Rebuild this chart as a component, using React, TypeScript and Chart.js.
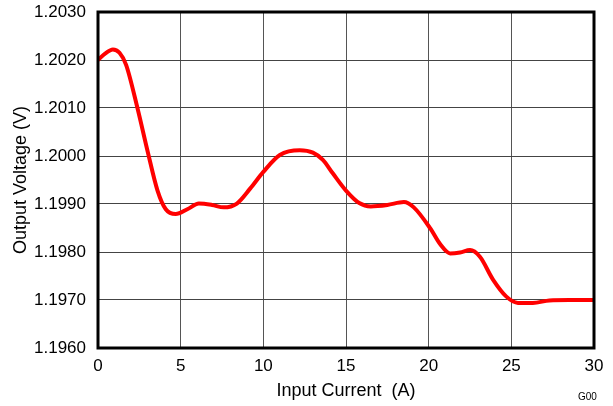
import React, { useEffect, useRef } from "react";
import { Chart, registerables } from "chart.js";

Chart.register(...registerables);

const currentA = [0, 0.45, 0.9, 1.3, 1.7, 2.4, 3.0, 3.6, 4.1, 4.7, 5.4, 6.1, 6.9, 7.6, 8.4, 9.2, 10.0, 11.0, 12.2, 13.0, 13.6, 14.2, 15.0, 15.8, 16.5, 17.5, 18.5, 19.1, 20.1, 20.7, 21.3, 21.9, 22.5, 23.1, 23.9, 24.7, 25.4, 26.3, 27.3, 28.5, 30];
const voltageV = [1.2020, 1.20214, 1.20222, 1.20215, 1.2019, 1.20098, 1.2001, 1.19928, 1.19889, 1.19879, 1.19889, 1.19901, 1.19898, 1.19893, 1.19901, 1.19932, 1.19967, 1.20002, 1.20012, 1.20007, 1.19992, 1.19964, 1.19928, 1.19902, 1.19895, 1.19898, 1.19904, 1.19893, 1.19849, 1.19816, 1.19797, 1.19799, 1.19804, 1.1979, 1.19742, 1.19707, 1.19694, 1.19694, 1.19699, 1.1970, 1.1970];
const xTicks = [0, 5, 10, 15, 20, 25, 30];
const yTicks = [1.196, 1.197, 1.198, 1.199, 1.2, 1.201, 1.202, 1.203];

const FONT = "'Liberation Sans', Arial, sans-serif";

const framePlugin = {
  id: "frame",
  afterDraw(chart: any) {
    const { ctx, chartArea } = chart;
    ctx.save();
    ctx.strokeStyle = "#000";
    ctx.lineWidth = 3;
    ctx.strokeRect(chartArea.left, chartArea.top, chartArea.right - chartArea.left, chartArea.bottom - chartArea.top);
    ctx.restore();
  },
};

export default function App() {
  const ref = useRef<HTMLCanvasElement>(null);
  useEffect(() => {
    const chart = new Chart(ref.current!, {
      type: "line",
      data: {
        datasets: [
          {
            data: currentA.map((x, i) => ({ x, y: voltageV[i] })),
            borderColor: "#ff0000",
            borderWidth: 4,
            pointRadius: 0,
            cubicInterpolationMode: "monotone",
            fill: false,
          },
        ],
      },
      options: {
        animation: false,
        responsive: false,
        devicePixelRatio: 1,
        layout: { padding: { top: 12, right: 19, left: 0, bottom: 0 } },
        plugins: { legend: { display: false }, tooltip: { enabled: false } },
        scales: {
          x: {
            type: "linear",
            min: 0,
            max: 30,
            afterBuildTicks: (s: any) => { s.ticks = xTicks.map((v) => ({ value: v })); },
            afterFit: (s: any) => { s.height = 58; s.paddingLeft = 0; s.paddingRight = 0; },
            grid: { color: "#555", lineWidth: 1, drawTicks: false },
            border: { display: false },
            ticks: { color: "#000", font: { family: FONT, size: 17 }, padding: 8, maxRotation: 0, callback: (v: any) => String(v) },
            title: { display: true, text: "Input Current  (A)", color: "#000", font: { family: FONT, size: 18 }, padding: { top: 0, bottom: 4 } },
          },
          y: {
            type: "linear",
            min: 1.196,
            max: 1.203,
            afterBuildTicks: (s: any) => { s.ticks = yTicks.map((v) => ({ value: v })); },
            afterFit: (s: any) => { s.width = 98; s.paddingTop = 0; s.paddingBottom = 0; },
            grid: { color: "#444", lineWidth: 1, drawTicks: false },
            border: { display: false },
            ticks: { color: "#000", font: { family: FONT, size: 17 }, padding: 12, callback: (v: any) => Number(v).toFixed(4) },
            title: { display: true, text: "Output Voltage (V)", color: "#000", font: { family: FONT, size: 18 }, padding: { top: 10, bottom: 0 } },
          },
        },
      },
      plugins: [framePlugin],
    });
    return () => chart.destroy();
  }, []);
  return (
    <div style={{ position: "fixed", left: 0, top: 0, width: 613, height: 406, background: "#fff" }}>
      <canvas ref={ref} width={613} height={406} style={{ display: "block" }} />
      <div style={{ position: "absolute", left: 578, top: 391, fontFamily: FONT, fontSize: 10, color: "#000" }}>G00</div>
    </div>
  );
}
